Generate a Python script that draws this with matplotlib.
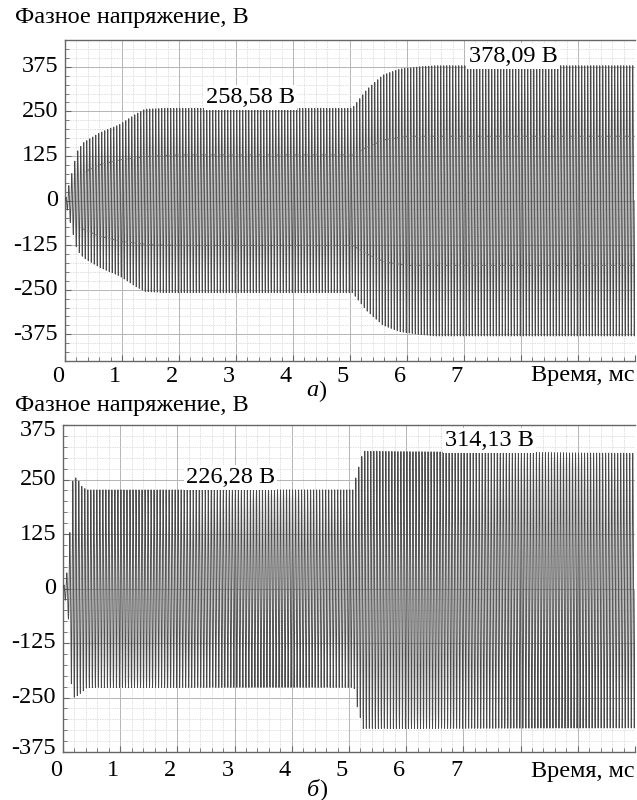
import numpy as np
import matplotlib
matplotlib.use("Agg")
import matplotlib.pyplot as plt
from matplotlib.ticker import MultipleLocator
from matplotlib.transforms import blended_transform_factory, ScaledTranslation

plt.rcParams['font.family'] = ['Liberation Serif', 'DejaVu Serif']

# ---------------- data ----------------
title_text = "Фазное напряжение, В"
xlabel_text = "Время, мс"
x_tick_labels = [0, 1, 2, 3, 4, 5, 6, 7]
y_tick_values = [375, 250, 125, 0, -125, -250, -375]

# carrier frequency of the phase voltage (cycles per ms)
carrier_freq = 19.0

# panel a: envelope breakpoints (ms, V)
a_env_t = [0.0, 0.09, 0.21, 0.32, 0.61, 0.96, 1.23, 1.40, 1.75, 5.04, 5.30, 5.58, 5.88, 6.23, 6.50, 10.0]
a_env_up = [0, 57, 136, 162, 190, 213, 241, 256, 258.58, 258.58, 312, 352, 369, 375, 378.09, 378.09]
a_env_lo = [0, -60, -138, -160, -188, -212, -240, -255, -258.58, -258.58, -310, -350, -368, -376, -380, -380]
# panel a: inner (half-level) trace
a_inner_t = [0.32, 0.6, 1.0, 1.5, 2.0, 5.05, 5.3, 5.6, 6.0, 10.0]
a_inner_up = [78, 100, 115, 124, 128, 128, 150, 170, 180, 180]
a_inner_lo = [-80, -100, -115, -124, -126, -126, -150, -172, -182, -182]
a_labels = ["258,58 В", "378,09 В"]
a_label_t = [3.25, 7.86]
a_label_v = [288, 405]

# panel б: envelope breakpoints (ms, V)
b_env_t = [0.0, 0.09, 0.16, 0.19, 0.26, 0.33, 0.42, 5.09, 5.12, 5.25, 6.0, 10.0]
b_env_up = [0, 49, 240, 257, 250, 234, 226.28, 226.28, 255, 315, 314.13, 310]
b_env_lo = [0, -60, -261, -250, -245, -238, -227, -227, -260, -321, -321, -320]
b_labels = ["226,28 В", "314,13 В"]
b_label_t = [2.93, 7.46]
b_label_v = [255, 339]

# ---------------- figure ----------------
W, H = 637, 800
fig = plt.figure(figsize=(W / 100, H / 100), dpi=100)

FS = 17.5
t = np.linspace(0, 10, 16001)


def make_axes(rect, ylim, first_shift=0, last_shift=0):
    ax = fig.add_axes(rect)
    ax.set_xlim(0, 10)
    ax.set_ylim(*ylim)
    ax.xaxis.set_major_locator(MultipleLocator(1))
    ax.xaxis.set_minor_locator(MultipleLocator(0.2))
    ax.yaxis.set_major_locator(MultipleLocator(125))
    ax.yaxis.set_minor_locator(MultipleLocator(25))
    ax.grid(which='major', color='#b4b4b4', lw=0.7, ls='-')
    ax.grid(which='minor', color='#d2d2d2', lw=0.5, ls=(0, (2, 1.5)))
    ax.set_axisbelow(True)
    for s in ax.spines.values():
        s.set_color('#666666')
        s.set_linewidth(1.0)
    ax.spines['right'].set_visible(False)
    ax.tick_params(which='both', direction='in', color='#666666')
    ax.tick_params(which='major', length=4, width=0.8)
    ax.tick_params(which='minor', length=3, width=0.6)
    ax.tick_params(axis='both', labelbottom=False, labelleft=False)
    # y tick labels as text
    tr = blended_transform_factory(ax.transAxes, ax.transData)
    n = len(y_tick_values)
    for i, v in enumerate(y_tick_values):
        dy = first_shift if i == 0 else (last_shift if i == n - 1 else 0)
        off = ScaledTranslation(-7 / 100, dy / 100, fig.dpi_scale_trans)
        ax.text(0, v, str(v), transform=tr + off, ha='right', va='center', fontsize=FS, clip_on=False)
    return ax


def draw_signal(ax, env_t, up, lo):
    u = np.interp(t, env_t, up)
    l = np.interp(t, env_t, lo)
    mid = (u + l) / 2
    amp = (u - l) / 2
    y = mid + amp * np.sin(2 * np.pi * carrier_freq * t)
    ax.plot(t, y, color='#4a4a4a', lw=0.65, zorder=3)


def x_labels(ax, ypix):
    tr = blended_transform_factory(ax.transData, fig.transFigure)
    off = ScaledTranslation(-7 / 100, 0, fig.dpi_scale_trans)
    for v in x_tick_labels:
        fig.text(v, 1 - ypix / H, str(v), transform=tr + off, ha='center', va='center', fontsize=FS)
    fig.text(635 / W, 1 - ypix / H, xlabel_text, ha='right', va='center', fontsize=FS)


# ---- panel a ----
axa = make_axes([65 / W, 1 - 361 / H, 570 / W, 321 / H], (-450, 450))
draw_signal(axa, a_env_t, a_env_up, a_env_lo)
axa.plot(a_inner_t, a_inner_up, color='#707070', lw=0.8, ls=(0, (2, 2)), zorder=4)
axa.plot(a_inner_t, a_inner_lo, color='#707070', lw=0.8, ls=(0, (2, 2)), zorder=4)
for s, tt, vv in zip(a_labels, a_label_t, a_label_v):
    axa.text(tt, vv, s, ha='center', va='center', fontsize=FS, zorder=6,
             bbox=dict(facecolor='white', edgecolor='none', pad=1.5))
fig.text(15 / W, 1 - 18 / H, title_text, ha='left', va='center', fontsize=FS)
x_labels(axa, 376)
fig.text(318 / W, 1 - 391 / H, "а", ha='right', va='center', fontsize=FS, style='italic')
fig.text(318 / W, 1 - 391 / H, ")", ha='left', va='center', fontsize=FS)

# ---- panel б ----
axb = make_axes([63 / W, 1 - 752 / H, 572 / W, 327 / H], (-375, 375), first_shift=-6, last_shift=4)
draw_signal(axb, b_env_t, b_env_up, b_env_lo)
for s, tt, vv in zip(b_labels, b_label_t, b_label_v):
    axb.text(tt, vv, s, ha='center', va='center', fontsize=FS, zorder=6,
             bbox=dict(facecolor='white', edgecolor='none', pad=1.5))
fig.text(15 / W, 1 - 406 / H, title_text, ha='left', va='center', fontsize=FS)
x_labels(axb, 771)
fig.text(319 / W, 1 - 790 / H, "б", ha='right', va='center', fontsize=FS, style='italic')
fig.text(319 / W, 1 - 790 / H, ")", ha='left', va='center', fontsize=FS)

fig.savefig("out.png", dpi=100)
